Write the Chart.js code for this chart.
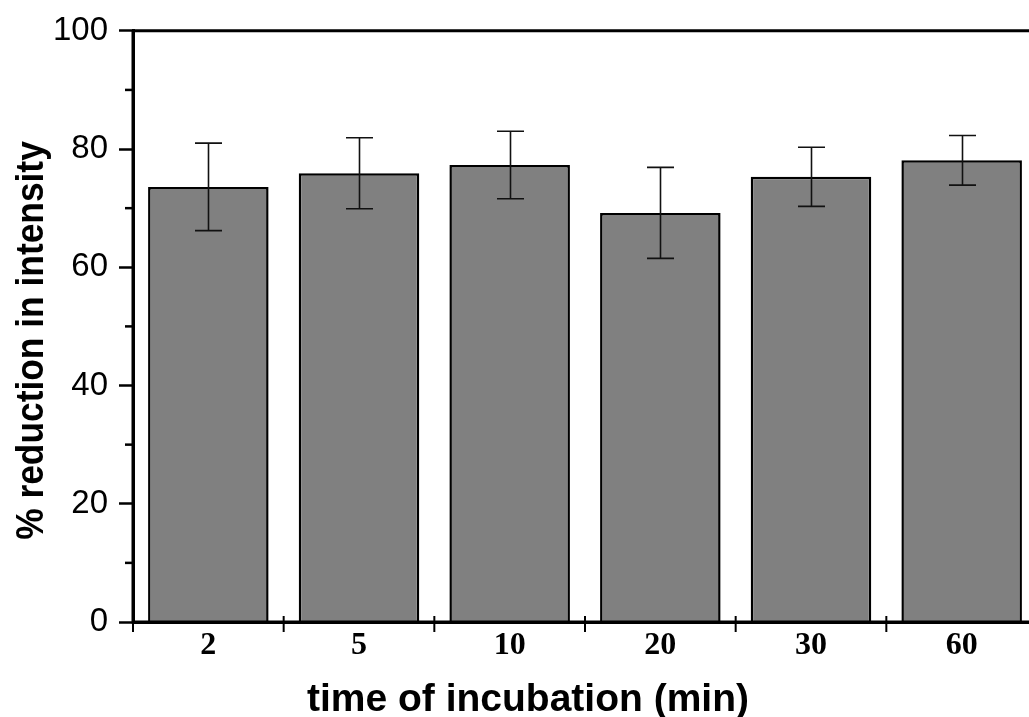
<!DOCTYPE html>
<html>
<head>
<meta charset="utf-8">
<script src="https://cdn.jsdelivr.net/npm/chart.js@4.4.1/dist/chart.umd.min.js"></script>
<style>
  html, body { margin: 0; padding: 0; background: #fff; overflow: hidden; }
  #wrap { width: 1029px; height: 717px; overflow: hidden; position: relative; }
  canvas { display: block; }
</style>
</head>
<body>
<div id="wrap"><canvas id="c" width="1050" height="717"></canvas></div>
<script>
// ---- data ----
const categories = ['2', '5', '10', '20', '30', '60'];
const meanValues = [73.6, 75.9, 77.3, 69.2, 75.3, 78.1];
const errorValues = [7.4, 6.0, 5.7, 7.7, 5.0, 4.2];
const yMinorTicks = [10, 30, 50, 70, 90];
const xTitle = 'time of incubation (min)';
const yTitle = '% reduction in intensity';

const extras = {
  id: 'extras',
  afterDatasetsDraw(chart) {
    const { ctx, chartArea: a, scales } = chart;
    const xs = scales.x, ys = scales.y;
    const meta = chart.getDatasetMeta(0);
    ctx.save();
    // error bars
    ctx.strokeStyle = '#111';
    ctx.lineWidth = 1.6;
    meta.data.forEach((bar, i) => {
      const v = meanValues[i], e = errorValues[i];
      const yt = ys.getPixelForValue(v + e);
      const yb = ys.getPixelForValue(v - e);
      const cx = Math.round(bar.x) + 0.5;
      ctx.beginPath();
      ctx.moveTo(cx, yt); ctx.lineTo(cx, yb);
      ctx.moveTo(cx - 13.5, yt); ctx.lineTo(cx + 13.5, yt);
      ctx.moveTo(cx - 13.5, yb); ctx.lineTo(cx + 13.5, yb);
      ctx.stroke();
    });
    // frame (axes + top/right)
    ctx.strokeStyle = '#000';
    ctx.lineWidth = 3;
    ctx.beginPath();
    ctx.moveTo(a.left, a.top); ctx.lineTo(a.right, a.top);
    ctx.lineTo(a.right, a.bottom); ctx.lineTo(a.left, a.bottom);
    ctx.lineTo(a.left, a.top);
    ctx.stroke();
    // y minor ticks
    ctx.lineWidth = 2.5;
    yMinorTicks.forEach(v => {
      const y = ys.getPixelForValue(v);
      ctx.beginPath(); ctx.moveTo(a.left - 8, y); ctx.lineTo(a.left, y); ctx.stroke();
    });
    // x ticks between categories (crossing the axis)
    const step = xs.getPixelForValue(1) - xs.getPixelForValue(0);
    ctx.lineWidth = 2;
    for (let i = 0; i <= categories.length; i++) {
      const x = xs.getPixelForValue(0) - step / 2 + i * step;
      ctx.beginPath(); ctx.moveTo(x, a.bottom - 6); ctx.lineTo(x, a.bottom + 10); ctx.stroke();
    }
    // axis titles
    ctx.fillStyle = '#000';
    ctx.font = 'bold 39px "Liberation Sans", Arial, sans-serif';
    ctx.textAlign = 'center';
    ctx.textBaseline = 'alphabetic';
    ctx.fillText(xTitle, 528, 711);
    ctx.translate(43, 340.5);
    ctx.rotate(-Math.PI / 2);
    ctx.scale(0.93, 1);
    ctx.font = 'bold 38px "Liberation Sans", Arial, sans-serif';
    ctx.fillText(yTitle, 0, 0);
    ctx.restore();
  }
};

new Chart(document.getElementById('c'), {
  type: 'bar',
  data: {
    labels: categories,
    datasets: [{
      data: meanValues,
      backgroundColor: '#808080',
      borderColor: '#000',
      borderWidth: 2.5,
      borderSkipped: 'start',
      categoryPercentage: 1.0,
      barPercentage: 0.8
    }]
  },
  options: {
    responsive: false,
    animation: false,
    devicePixelRatio: 1,
    layout: { padding: { top: 30, right: 13, left: 0, bottom: 0 } },
    plugins: { legend: { display: false }, tooltip: { enabled: false }, title: { display: false } },
    scales: {
      x: {
        type: 'category',
        offset: true,
        grid: { display: true, drawOnChartArea: false, drawTicks: false },
        border: { display: true, width: 3, color: '#000' },
        ticks: {
          color: '#000',
          padding: 5,
          font: { family: '"Liberation Serif", "Times New Roman", serif', weight: 'bold', size: 32 }
        },
        afterFit: s => { s.height = 95; }
      },
      y: {
        min: 0,
        max: 100,
        grid: { drawOnChartArea: false, drawTicks: true, tickLength: 14, tickWidth: 2.5, tickColor: '#000' },
        border: { display: true, width: 3, color: '#000' },
        ticks: {
          stepSize: 20,
          color: '#000',
          padding: 11,
          font: { family: '"Liberation Sans", Arial, sans-serif', size: 33 }
        },
        afterFit: s => { s.width = 133; }
      }
    }
  },
  plugins: [extras]
});
</script>
</body>
</html>
